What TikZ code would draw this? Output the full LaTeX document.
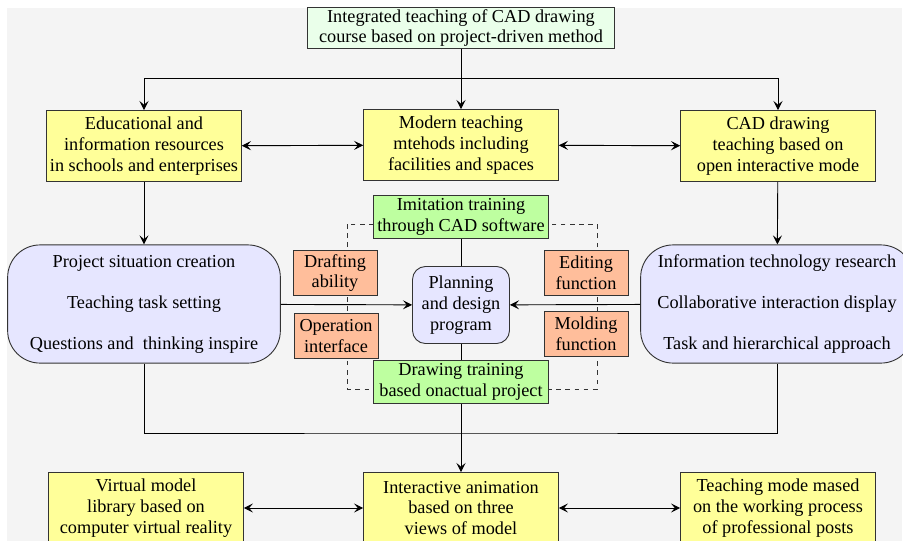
\documentclass[tikz,border=0pt]{standalone}
\usepackage{fontspec}
\setmainfont{Liberation Serif}
\usetikzlibrary{arrows.meta}
\definecolor{bgray}{RGB}{244,244,244}
\definecolor{boxyellow}{RGB}{255,255,153}
\definecolor{palegreen}{RGB}{234,255,234}
\definecolor{trgreen}{RGB}{190,255,160}
\definecolor{boxorange}{RGB}{255,190,155}
\definecolor{lavender}{RGB}{230,230,255}

\begin{document}
\begin{tikzpicture}[x=0.0231cm,y=-0.0231cm,>={Stealth[length=6pt,width=6pt,inset=2.5pt]},
 font=\fontsize{12}{13.6}\selectfont,line width=0.6pt,
 base/.style={draw=black!80,align=center,inner sep=1pt},
 yel/.style={base,fill=boxyellow,minimum width=4.5cm,minimum height=1.64cm},
 trn/.style={base,fill=trgreen,minimum width=4.04cm,minimum height=0.99cm},
 org/.style={base,fill=boxorange,minimum width=1.94cm,minimum height=1.02cm},
 lav/.style={base,fill=lavender,rounded corners=0.75cm,minimum width=6.3cm,minimum height=2.73cm}]
\clip (0,0) rectangle (903,540);
\fill[bgray] (7,8) rectangle (902,545);
\draw[dashed,black!80] (347,224) rectangle (597,389);
\node[base,fill=palegreen,minimum width=7.09cm,minimum height=0.95cm] (top) at (461,28) {Integrated teaching of CAD drawing\\course based on project-driven method};
\node[yel] (res) at (144,146) {Educational and\\information resources\\in schools and enterprises};
\node[yel] (modern) at (461,145) {Modern teaching\\mtehods including\\facilities and spaces};
\node[yel] (open) at (778,146) {CAD drawing\\teaching based on\\open interactive mode};
\node[trn] (imit) at (461,217) {Imitation training\\through CAD software};
\node[trn] (drawtr) at (461,382) {Drawing training\\based onactual project};
\node[base,fill=lavender,rounded corners=0.3cm,minimum width=2.24cm,minimum height=1.78cm] (plan) at (461,305) {Planning\\and design\\program};
\node[org] (draft) at (335,273) {Drafting\\ability};
\node[org] (oper) at (336,336) {Operation\\interface};
\node[org] (edit) at (586,273) {Editing\\function};
\node[org] (mold) at (586,334) {Molding\\function};
\node[lav] (sit) at (144,304) {Project situation creation\\[13.4pt]Teaching task setting\\[13.4pt]Questions and~ thinking inspire};
\node[lav] (inf) at (777,304) {Information technology research\\[13.4pt]Collaborative interaction display\\[13.4pt]Task and hierarchical approach};
\node[yel] (vr) at (146,508) {Virtual model\\library based on\\computer virtual reality};
\node[yel] (anim) at (461,508) {Interactive animation\\based on three\\views of model};
\node[yel] (mode) at (778,508) {Teaching mode mased\\on the working process\\of professional posts};
\coordinate (hub) at (461,78);
\coordinate (low) at (461,433);
\draw[->] (top) -- (modern);
\draw[->] (hub) -| (res); \draw[->] (hub) -| (open);
\draw[<->] (res) -- (modern); \draw[<->] (modern) -- (open);
\draw[->] (res) -- (sit); \draw[->] (open) -- (inf);
\draw (imit) -- (plan); \draw (plan) -- (drawtr);
\draw[->] (sit) -- (plan); \draw[->] (inf) -- (plan);
\draw (sit) |- (low) -| (inf);
\draw[->] (drawtr) -- (anim);
\draw[<->] (vr) -- (anim); \draw[<->] (anim) -- (mode);
\end{tikzpicture}
\end{document}
